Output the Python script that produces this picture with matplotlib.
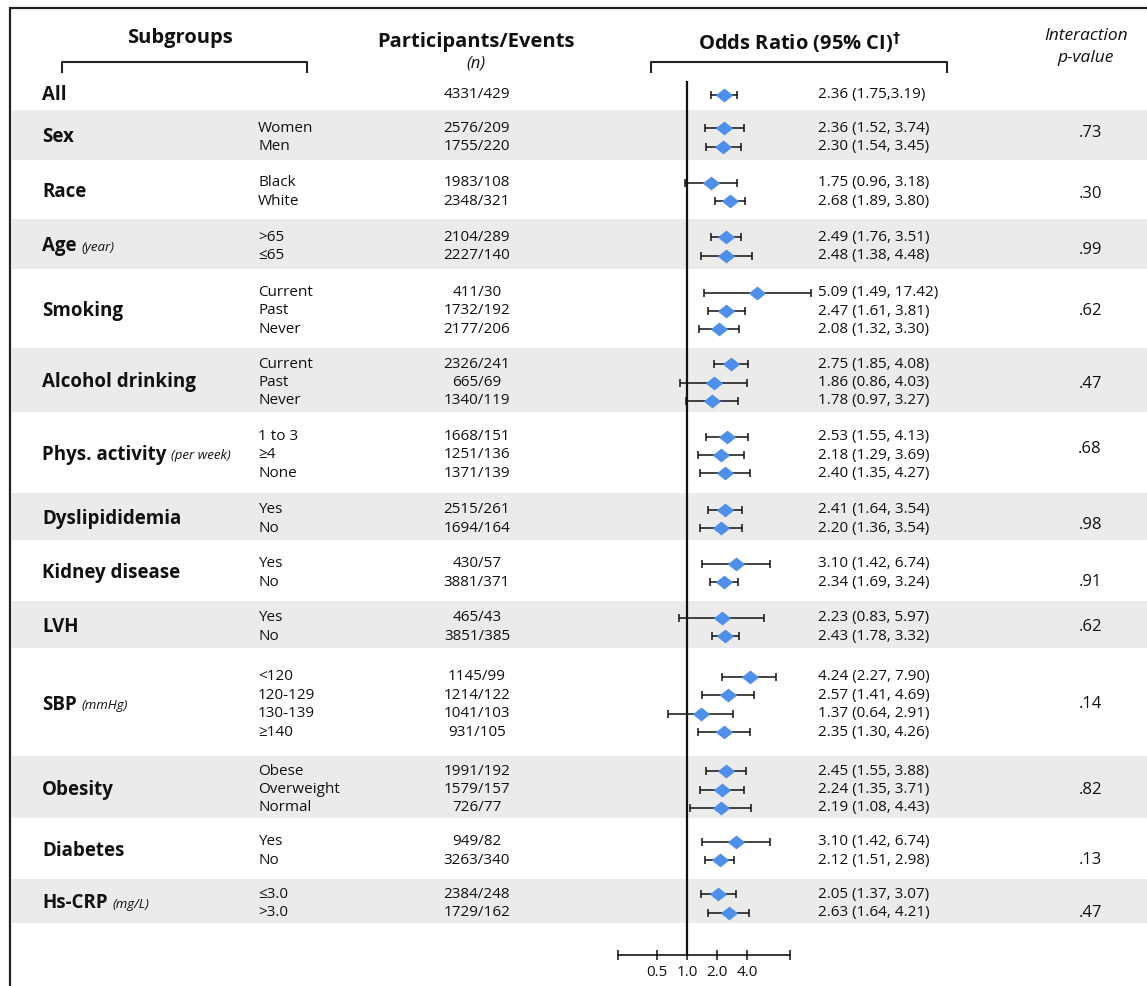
import matplotlib.pyplot as plt
from matplotlib.path import Path
from matplotlib.ticker import NullLocator

plt.rcParams['font.family'] = ['Open Sans', 'DejaVu Sans']

# ── data ─────────────────────────────────────────────────────────────
GROUPS = ["All", "Sex", "Race", "Age", "Smoking", "Alcohol drinking",
          "Phys. activity", "Dyslipididemia", "Kidney disease", "LVH",
          "SBP", "Obesity", "Diabetes", "Hs-CRP"]
UNITS = ["", "", "", "(year)", "", "", "(per week)", "", "", "",
         "(mmHg)", "", "", "(mg/L)"]
LEVELS = [
    [""],
    ["Women", "Men"],
    ["Black", "White"],
    [">65", "≤65"],
    ["Current", "Past", "Never"],
    ["Current", "Past", "Never"],
    ["1 to 3", "≥4", "None"],
    ["Yes", "No"],
    ["Yes", "No"],
    ["Yes", "No"],
    ["<120", "120-129", "130-139", "≥140"],
    ["Obese", "Overweight", "Normal"],
    ["Yes", "No"],
    ["≤3.0", ">3.0"],
]
PARTICIPANTS = [
    ["4331/429"],
    ["2576/209", "1755/220"],
    ["1983/108", "2348/321"],
    ["2104/289", "2227/140"],
    ["411/30", "1732/192", "2177/206"],
    ["2326/241", "665/69", "1340/119"],
    ["1668/151", "1251/136", "1371/139"],
    ["2515/261", "1694/164"],
    ["430/57", "3881/371"],
    ["465/43", "3851/385"],
    ["1145/99", "1214/122", "1041/103", "931/105"],
    ["1991/192", "1579/157", "726/77"],
    ["949/82", "3263/340"],
    ["2384/248", "1729/162"],
]
OR = [
    [2.36], [2.36, 2.30], [1.75, 2.68], [2.49, 2.48], [5.09, 2.47, 2.08],
    [2.75, 1.86, 1.78], [2.53, 2.18, 2.40], [2.41, 2.20], [3.10, 2.34],
    [2.23, 2.43], [4.24, 2.57, 1.37, 2.35], [2.45, 2.24, 2.19],
    [3.10, 2.12], [2.05, 2.63],
]
CI_LO = [
    [1.75], [1.52, 1.54], [0.96, 1.89], [1.76, 1.38], [1.49, 1.61, 1.32],
    [1.85, 0.86, 0.97], [1.55, 1.29, 1.35], [1.64, 1.36], [1.42, 1.69],
    [0.83, 1.78], [2.27, 1.41, 0.64, 1.30], [1.55, 1.35, 1.08],
    [1.42, 1.51], [1.37, 1.64],
]
CI_HI = [
    [3.19], [3.74, 3.45], [3.18, 3.80], [3.51, 4.48], [17.42, 3.81, 3.30],
    [4.08, 4.03, 3.27], [4.13, 3.69, 4.27], [3.54, 3.54], [6.74, 3.24],
    [5.97, 3.32], [7.90, 4.69, 2.91, 4.26], [3.88, 3.71, 4.43],
    [6.74, 2.98], [3.07, 4.21],
]
P_VALUES = ["", ".73", ".30", ".99", ".62", ".47", ".68", ".98", ".91",
            ".62", ".14", ".82", ".13", ".47"]
X_TICKS = [0.5, 1.0, 2.0, 4.0]

# ── layout (pixel rows) ──────────────────────────────────────────────
W, H = 1147, 986
BAND_EDGES = [74, 110, 160, 219, 269, 348, 412, 493, 540, 601, 648,
              756, 818, 879, 923]
LINE_STEP = 18.4
ROW_SHIFT = 2.5
P_POS = [0, 0.25, 0.6, 0.7, 1, 1.1, 0.7, 0.8, 1, 0.5, 1.5, 1.0, 1, 1]
X_GROUP, X_LEVEL, X_PART, X_ORTXT, X_P = 42, 258, 477, 818, 1090
AX_LEFT, AX_RIGHT, AX_ONE, PX_PER_DOUBLING = 618, 790, 687, 30
AXIS_Y = 955
BAND_COLOR = "#ebecea"
DIAMOND_COLOR = "#4d8fea"
TXT = "#111111"
ROW_FS = 11

diamond = Path([(-1, 0), (0, 0.8), (1, 0), (0, -0.8), (-1, 0)],
               [Path.MOVETO, Path.LINETO, Path.LINETO, Path.LINETO,
                Path.CLOSEPOLY])

fig = plt.figure(figsize=(W / 100, H / 100), dpi=100)
bg = fig.add_axes([0, 0, 1, 1])
bg.set_xlim(0, W)
bg.set_ylim(H, 0)
bg.axis("off")

# frame
bg.plot([10, 10, W], [H, 8, 8], color="#222222", lw=1.6, solid_joinstyle="miter")

# alternating shaded bands
for i in range(len(GROUPS)):
    if i % 2 == 1:
        top, bot = BAND_EDGES[i], BAND_EDGES[i + 1]
        bg.fill_between([12, W], top, bot, color=BAND_COLOR, lw=0, zorder=0)

# column headers
bg.text(180, 38, "Subgroups", fontsize=14.5, fontweight="bold", ha="center",
        va="center", color=TXT)
bg.text(476, 42, "Participants/Events", fontsize=14.5, fontweight="bold",
        ha="center", va="center", color=TXT)
bg.text(476, 63, "(n)", fontsize=12, style="italic", ha="center",
        va="center", color=TXT)
bg.text(800, 43, "Odds Ratio (95% CI)$^{\\mathbf{\\dagger}}$", fontsize=14.5,
        fontweight="bold", ha="center", va="center", color=TXT)
bg.text(1086, 36, "Interaction", fontsize=12.5, style="italic", ha="center",
        va="center", color=TXT)
bg.text(1086, 58, "p-value", fontsize=12.5, style="italic", ha="center",
        va="center", color=TXT)
for x0, x1 in [(62, 307), (651, 947)]:
    bg.plot([x0, x0, x1, x1], [72, 62, 62, 72], color="#222222", lw=1.5)

renderer = fig.canvas.get_renderer()

# forest-plot axes on a log2 odds-ratio scale
xmin = 2 ** (-(AX_ONE - AX_LEFT) / PX_PER_DOUBLING)
xmax = 2 ** ((AX_RIGHT - AX_ONE) / PX_PER_DOUBLING)
fp = fig.add_axes([AX_LEFT / W, 0, (AX_RIGHT - AX_LEFT) / W, 1])
fp.set_xscale("log", base=2)
fp.set_xlim(xmin, xmax)
fp.set_ylim(H, 0)
fp.patch.set_visible(False)
for s in ["top", "left", "right"]:
    fp.spines[s].set_visible(False)
fp.spines["bottom"].set_position(("data", AXIS_Y))
fp.spines["bottom"].set_linewidth(1.1)
fp.set_yticks([])
fp.set_xticks([xmin] + X_TICKS + [xmax])
fp.set_xticklabels([""] + [f"{t:.1f}" for t in X_TICKS] + [""])
fp.xaxis.set_minor_locator(NullLocator())
fp.tick_params(axis="x", direction="inout", length=7, width=1.1,
               labelsize=11, pad=4, colors=TXT)
fp.plot([1, 1], [82, AXIS_Y], color="#111111", lw=1.6, clip_on=False, zorder=2)

for g, name in enumerate(GROUPS):
    top, bot = BAND_EDGES[g], BAND_EDGES[g + 1]
    n = len(LEVELS[g])
    mid = (top + bot) / 2 + ROW_SHIFT
    ys = [mid + (k - (n - 1) / 2) * LINE_STEP for k in range(n)]

    t = bg.text(X_GROUP, mid, name, fontsize=13.5, fontweight="bold",
                ha="left", va="center", color=TXT)
    if UNITS[g]:
        ext = t.get_window_extent(renderer=renderer)
        bg.text(ext.x1 + 5, mid + 1, UNITS[g], fontsize=9.5, style="italic",
                ha="left", va="center", color=TXT)

    sep = "," if name == "All" else ", "
    for k, y in enumerate(ys):
        bg.text(X_LEVEL, y, LEVELS[g][k], fontsize=ROW_FS, ha="left",
                va="center", color=TXT)
        bg.text(X_PART, y, PARTICIPANTS[g][k], fontsize=ROW_FS, ha="center",
                va="center", color=TXT)
        o, lo, hi = OR[g][k], CI_LO[g][k], CI_HI[g][k]
        bg.text(X_ORTXT, y, f"{o:.2f} ({lo:.2f}{sep}{hi:.2f})", fontsize=ROW_FS,
                ha="left", va="center", color=TXT)
        fp.errorbar([o], [y], xerr=[[o - lo], [hi - o]], fmt="none",
                    ecolor="#111111", elinewidth=1.1, capsize=3, capthick=1.1,
                    clip_on=False, zorder=3)
        fp.plot([o], [y], marker=diamond, markersize=12.5, color=DIAMOND_COLOR,
                markeredgewidth=0, linestyle="none", clip_on=False, zorder=4)

    if P_VALUES[g]:
        yp = ys[0] + P_POS[g] * LINE_STEP
        bg.text(X_P, yp, P_VALUES[g], fontsize=12, ha="center",
                va="center", color=TXT)

fig.savefig("out.png", dpi=100)
